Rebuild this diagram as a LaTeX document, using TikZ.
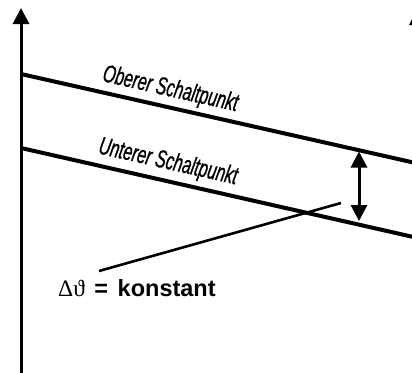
\documentclass[tikz,border=0pt]{standalone}
\usepackage{fontspec}
\usepackage{graphicx}
\setmainfont{Liberation Sans}
\newfontfamily\greekfont{Liberation Serif}
\newfontfamily\labelfont[FakeBold=1.2]{Liberation Sans}
\usetikzlibrary{arrows.meta}
\tikzset{
  axisline/.style={line width=3pt, -{Triangle[length=16pt,width=16pt]}},
  levelline/.style={line width=4pt},
  dimarrow/.style={line width=3pt, {Triangle[length=16pt,width=16pt]}-{Triangle[length=16pt,width=16pt]}},
  leader/.style={line width=2.6pt},
  levellabel/.style={font=\labelfont\fontsize{25}{26}\selectfont\itshape, inner sep=0pt, anchor=base, rotate=-12.68},
  constlabel/.style={font=\fontsize{23.5}{25}\selectfont\bfseries, inner sep=0pt, anchor=base west}
}
\begin{document}
\begin{tikzpicture}[x=1pt,y=-1pt]
\useasboundingbox (0,0) rectangle (412,372);
\clip (0,0) rectangle (412,372);
% axes
\coordinate (ybot) at (21,380);
\coordinate (ytop) at (21,8);
\draw[axisline] (ybot) -- (ytop);
\coordinate (y2tip) at (417,9);
\coordinate (y2l) at (409,25);
\coordinate (y2r) at (425,25);
\fill (y2l) -- (y2tip) -- (y2r) -- cycle;
% switching lines
\coordinate (uA) at (21,74);
\coordinate (uB) at (420,164);
\coordinate (lA) at (21,148);
\coordinate (lB) at (420,238.5);
\draw[levelline] (uA) -- (uB);
\draw[levelline] (lA) -- (lB);
\node[levellabel] (oben) at (169,96.2) {\scalebox{0.64}[1]{Oberer Schaltpunkt}};
\node[levellabel] (unten) at (166.7,168.9) {\scalebox{0.64}[1]{Unterer Schaltpunkt}};
% difference arrow
\coordinate (dT) at (359,151.5);
\coordinate (dB) at (359,221);
\draw[dimarrow] (dT) -- (dB);
% leader and label
\node[constlabel] (konst) at (58,296.7) {{\mdseries\greekfont Δϑ}\hspace{3pt} =\hspace{3pt} konstant};
\coordinate (lead1) at (99,271);
\coordinate (lead2) at (341,203);
\draw[leader] (lead1) -- (lead2);
\end{tikzpicture}
\end{document}
